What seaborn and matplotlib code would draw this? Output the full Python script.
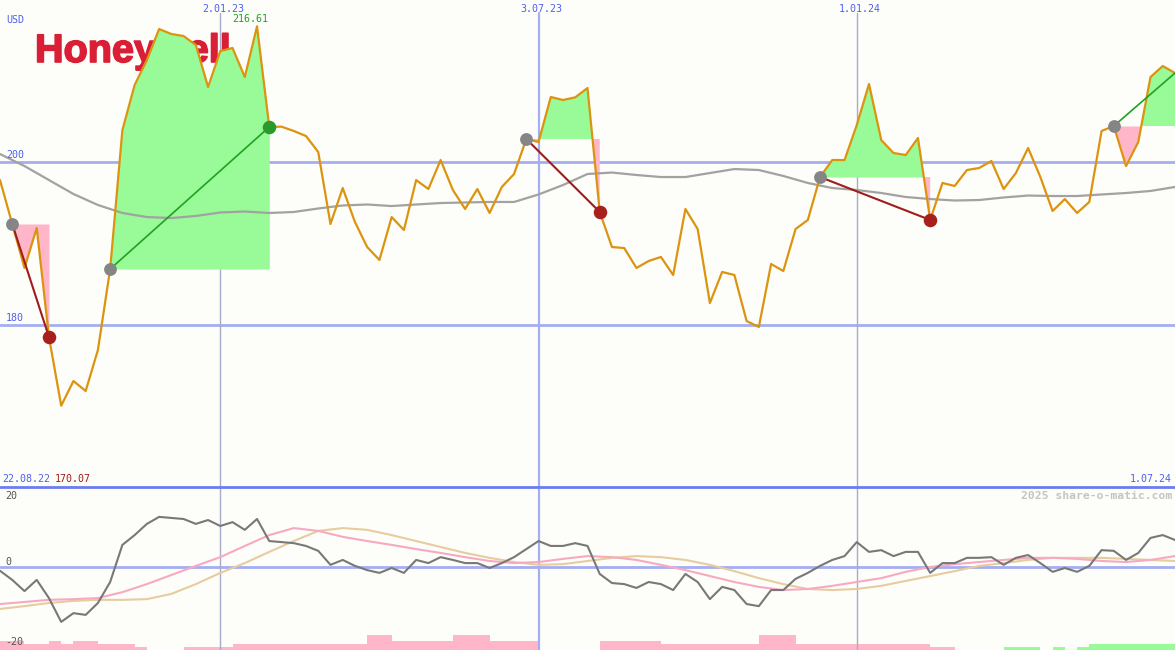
import numpy as np
import pandas as pd
import matplotlib
matplotlib.use("Agg")
import matplotlib.pyplot as plt
import matplotlib.patheffects as pe
import seaborn as sns

# weekly closes (USD), first week 29.08.22, last week 1.07.24
price = [197.75, 192.36, 186.96, 191.87, 178.49, 170.07, 173.09, 171.87, 176.90, 186.83,
         203.89, 209.41, 212.48, 216.28, 215.67, 215.42, 214.32, 209.17, 213.58, 213.95,
         210.39, 216.61, 204.26, 204.30, 203.77, 203.15, 201.19, 192.36, 196.77, 192.60,
         189.53, 187.94, 193.21, 191.62, 197.75, 196.65, 200.21, 196.53, 194.20, 196.65,
         193.71, 196.90, 198.49, 202.79, 202.42, 207.94, 207.57, 207.90, 209.04, 193.83,
         189.53, 189.41, 186.96, 187.82, 188.31, 186.10, 194.20, 191.74, 182.66, 186.47,
         186.10, 180.45, 179.72, 187.45, 186.59, 191.74, 192.85, 198.12, 200.21, 200.20,
         204.50, 209.53, 202.66, 201.07, 200.82, 202.91, 192.85, 197.39, 197.02, 198.98,
         199.23, 200.09, 196.65, 198.61, 201.68, 198.12, 193.95, 195.42, 193.71, 195.06,
         203.77, 204.38, 199.47, 202.42, 210.39, 211.74, 210.88]
dates = pd.date_range("2022-08-29", periods=len(price), freq="7D")

# moving average, read every 2nd week
ma = [200.94, 199.47, 197.75, 196.04, 194.69, 193.71, 193.21, 193.09, 193.34, 193.77,
      193.89, 193.71, 193.83, 194.26, 194.63, 194.75, 194.56, 194.75, 194.93, 195.00,
      195.06, 195.06, 195.98, 197.14, 198.49, 198.67, 198.37, 198.12, 198.12, 198.61,
      199.10, 198.98, 198.25, 197.39, 196.77, 196.53, 196.16, 195.67, 195.42, 195.24,
      195.30, 195.61, 195.85, 195.79, 195.79, 195.98, 196.16, 196.41, 196.90]

# trades: week index of entry and exit (last one still open)
entries = [1, 9, 43, 67, 91]
exits = [4, 22, 49, 76, 96]
trade_open = [False, False, False, False, True]

# lower panel: momentum (weekly) and two smoothed signal lines (every 2nd week)
momentum = [-1.0, -3.6, -6.8, -3.6, -8.8, -15.6, -13.1, -13.6, -10.2, -4.2,
            6.4, 9.2, 12.4, 14.4, 14.1, 13.8, 12.4, 13.5, 11.8, 12.9,
            10.7, 13.8, 7.5, 7.2, 6.9, 6.1, 4.7, 0.7, 2.1, 0.4,
            -0.8, -1.6, -0.2, -1.6, 2.1, 1.2, 2.9, 2.1, 1.2, 1.2,
            -0.2, 1.2, 2.9, 5.2, 7.5, 6.1, 6.1, 6.9, 6.1, -1.9,
            -4.5, -4.8, -5.9, -4.2, -4.8, -6.5, -1.9, -4.2, -9.1, -5.6,
            -6.5, -10.5, -11.1, -6.5, -6.5, -3.3, -1.6, 0.4, 2.1, 3.2,
            7.2, 4.4, 4.9, 3.2, 4.4, 4.4, -1.6, 1.2, 1.2, 2.7,
            2.7, 2.9, 0.7, 2.7, 3.5, 1.2, -1.3, -0.2, -1.3, 0.4,
            4.9, 4.7, 2.1, 4.1, 8.4, 9.2, 7.8]
sig_fast = [-10.5, -9.9, -9.3, -9.1, -8.8, -7.1, -4.8, -2.2, 0.4, 2.9,
            6.1, 9.2, 11.2, 10.4, 8.7, 7.5, 6.4, 5.2, 4.1, 2.9,
            1.8, 1.2, 1.5, 2.4, 3.2, 2.9, 2.1, 0.7, -0.8, -2.5,
            -4.2, -5.6, -6.5, -6.2, -5.3, -4.2, -3.1, -1.3, 0.1, 0.9,
            1.5, 2.1, 2.7, 2.7, 2.4, 1.8, 1.5, 2.1, 3.2]
sig_slow = [-11.9, -11.1, -10.2, -9.6, -9.3, -9.3, -9.1, -7.6, -4.8, -1.6,
            1.2, 4.4, 7.5, 10.4, 11.2, 10.7, 9.2, 7.5, 5.8, 4.1,
            2.7, 1.5, 0.7, 0.9, 1.8, 2.7, 3.2, 2.9, 2.1, 0.7,
            -1.1, -3.1, -4.8, -6.2, -6.5, -6.2, -5.3, -3.9, -2.5, -1.1,
            0.4, 1.2, 2.1, 2.7, 2.7, 2.7, 2.4, 2.1, 1.8]
# weekly trend bars (negative = pink, positive = green)
trend = [-2.6, -2.6, -1.7, -1.7, -2.6, -1.7, -2.6, -2.6, -1.7, -1.7,
         -1.7, -0.9, 0, 0, 0, -0.9, -0.9, -0.9, -0.9, -1.7,
         -1.7, -1.7, -1.7, -1.7, -1.7, -1.7, -1.7, -1.7, -1.7, -1.7,
         -4.3, -4.3, -2.6, -2.6, -2.6, -2.6, -2.6, -4.3, -4.3, -4.3,
         -2.6, -2.6, -2.6, -2.6, 0, 0, 0, 0, 0, -2.6,
         -2.6, -2.6, -2.6, -2.6, -1.7, -1.7, -1.7, -1.7, -1.7, -1.7,
         -1.7, -1.7, -4.3, -4.3, -4.3, -1.7, -1.7, -1.7, -1.7, -1.7,
         -1.7, -1.7, -1.7, -1.7, -1.7, -1.7, -0.9, -0.9, 0, 0,
         0, 0, 0.9, 0.9, 0.9, 0, 0.9, 0, 0.9, 1.7,
         1.7, 1.7, 1.7, 1.7, 1.7, 1.7]

grid_dates = ["2023-01-02", "2023-07-03", "2024-01-01"]
grid_labels = ["2.01.23", "3.07.23", "1.01.24"]

sns.set_style("white")
plt.rcParams["font.family"] = ["DejaVu Sans Mono"]

bg = "#fdfefa"
blue = "#4d5ff0"
gridblue = "#a4aef0"

fig = plt.figure(figsize=(11.75, 6.5), dpi=100, facecolor=bg)
ax = fig.add_axes([0, 163 / 650, 1, 487 / 650])
axb = fig.add_axes([0, 0, 1, 163 / 650])
for a in (ax, axb):
    a.set_axis_off()
    a.set_xlim(dates[0], dates[-1])
ax.set_ylim(160.09, 219.84)
axb.set_ylim(-23.63, 22.94)

df = pd.DataFrame({"date": dates, "close": price})
df_ma = pd.DataFrame({"date": dates[::2], "ma": ma})
p = np.array(price)

# grid
for v in (200, 180):
    ax.axhline(v, color=gridblue, lw=2, zorder=1.5)
axb.axhline(0, color=gridblue, lw=2, zorder=1.5)
for d, lab in zip(grid_dates, grid_labels):
    d = pd.Timestamp(d)
    mid = lab.startswith("3.07")
    ax.axvline(d, ymax=0.973, color=gridblue if mid else "#a8abc8",
               lw=1.6 if mid else 1, zorder=1.5)
    axb.axvline(d, color=gridblue if mid else "#a8abc8",
                lw=1.6 if mid else 1, zorder=1.5)
    ax.annotate(lab, xy=(d, 1.0), xycoords=("data", "axes fraction"),
                xytext=(2.2, -6.5), textcoords="offset points",
                ha="center", va="center", color=blue, fontsize=7.2)

# logo, kept behind the fills
ax.text(35 / 1175, 1 - 62 / 650, "Honeywell", transform=fig.transFigure,
        family="Liberation Sans", weight="bold", fontsize=28.5, color="#d91e36",
        zorder=1, clip_on=False,
        path_effects=[pe.withStroke(linewidth=1.2, foreground="#d91e36")])

# profit / loss areas of each trade
for e, x in zip(entries, exits):
    seg = slice(e, x + 1)
    ax.fill_between(dates[seg], p[seg], p[e], where=p[seg] >= p[e],
                    interpolate=True, color="#98fb98", lw=0, zorder=2)
    ax.fill_between(dates[seg], p[seg], p[e], where=p[seg] <= p[e],
                    interpolate=True, color="#ffb6c8", lw=0, zorder=2)

sns.lineplot(data=df_ma, x="date", y="ma", ax=ax, color="#a2a2a2", lw=1.6, zorder=3)
sns.lineplot(data=df, x="date", y="close", ax=ax, color="#dc9410", lw=1.6, zorder=4)

for e, x, op in zip(entries, exits, trade_open):
    win = p[x] > p[e]
    col = "#22a022" if win else "#a01c1c"
    ax.plot([dates[e], dates[x]], [p[e], p[x]], color=col,
            lw=1.2 if win else 1.5, zorder=5)
    ax.scatter(dates[e], p[e], s=85, color="#858585", lw=0, zorder=6)
    if not op:
        ax.scatter(dates[x], p[x], s=95, color="#2a9a2a" if win else "#a8201e",
                   lw=0, zorder=6)

imax = int(np.argmax(p))
ax.annotate(f"{p[imax]:.2f}", xy=(dates[imax], p[imax]), xytext=(-5, 5),
            textcoords="offset points", ha="center", va="center",
            color="#22a022", fontsize=7.2)

# lower panel
tr = np.array(trend)
axb.bar(dates[:-1], np.abs(tr), width=7, align="edge", bottom=-23.63,
        color=["#98fb98" if t > 0 else "#ffb6c8" for t in tr], lw=0, zorder=1)
df_low = pd.DataFrame({"date": dates[::2], "fast": sig_fast, "slow": sig_slow})
sns.lineplot(data=df_low, x="date", y="slow", ax=axb, color="#e6cc9e", lw=1.5, zorder=3)
sns.lineplot(data=df_low, x="date", y="fast", ax=axb, color="#f7a9c2", lw=1.5, zorder=3)
sns.lineplot(x=dates, y=momentum, ax=axb, color="#787878", lw=1.5, zorder=4)

fig.add_artist(plt.Line2D([0, 1], [163 / 650, 163 / 650], color="#6c7cf2", lw=2))


def px(x, y):
    return x / 1175, 1 - y / 650


fig.text(*px(6, 20), "USD", color=blue, fontsize=7.2, va="center")
fig.text(*px(6, 155), "200", color=blue, fontsize=7.2, va="center")
fig.text(*px(6, 318), "180", color=blue, fontsize=7.2, va="center")
fig.text(*px(2, 479), "22.08.22", color=blue, fontsize=7.2, va="center")
fig.text(*px(55, 479), f"{p.min():.2f}", color="#a01c1c", fontsize=7.2, va="center")
fig.text(*px(1172, 479), "1.07.24", color=blue, fontsize=7.2, va="center", ha="right")
fig.text(*px(1172, 496), "2025 share-o-matic.com", color="#c4c4c4", fontsize=8.2,
         weight="bold", va="center", ha="right")
fig.text(*px(5, 496), "20", color="#555555", fontsize=7.2, va="center")
fig.text(*px(5, 562), "0", color="#555555", fontsize=7.2, va="center")
fig.text(*px(5, 642), "-20", color="#555555", fontsize=7.2, va="center")

fig.savefig("out.png", dpi=100, facecolor=bg)
